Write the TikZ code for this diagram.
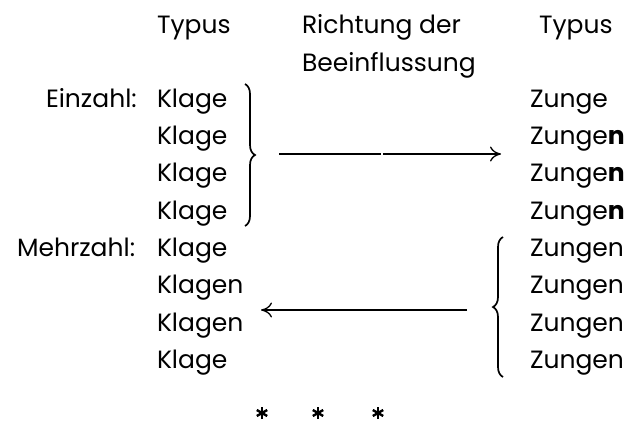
\documentclass[tikz,border=0pt]{standalone}
\usepackage{fontspec}
\setmainfont{Poppins}
\usetikzlibrary{arrows.meta,decorations.pathreplacing}
\begin{document}
\begin{tikzpicture}[x=1pt,y=-1pt,
  word/.style={inner sep=0pt,outer sep=0pt,font=\fontsize{25}{25}\selectfont},
  wordW/.style={word,anchor=base west},
  brace/.style={decorate,decoration={brace,amplitude=10pt},line width=1.7pt},
  flow/.style={line width=1.3pt,-{Computer Modern Rightarrow[length=11pt,width=15pt,line width=1.3pt]}},
  plain/.style={line width=1.3pt},
  star/.style={line width=2.4pt}]
\useasboundingbox (0,0) rectangle (639,421);

% column headings
\node[wordW] (h1) at (157,33) {Typus};
\node[wordW] (h2) at (302,33) {Richtung der};
\node[wordW] (h3) at (302,71) {Beeinflussung};
\node[wordW] (h4) at (539,33) {Typus};

% row labels
\node[wordW] (einz) at (46,107) {Einzahl:};
\node[wordW] (mehr) at (17,256) {Mehrzahl:};

% left column
\node[wordW] (k1) at (157,107) {Klage};
\node[wordW] (k2) at (157,144) {Klage};
\node[wordW] (k3) at (157,181) {Klage};
\node[wordW] (k4) at (157,219) {Klage};
\node[wordW] (k5) at (157,256) {Klage};
\node[wordW] (k6) at (157,293) {Klagen};
\node[wordW] (k7) at (157,331) {Klagen};
\node[wordW] (k8) at (157,368) {Klage};

% right column
\node[wordW] (z1) at (530,107) {Zunge};
\node[wordW] (z2) at (530,144) {Zunge\textbf{n}};
\node[wordW] (z3) at (530,181) {Zunge\textbf{n}};
\node[wordW] (z4) at (530,219) {Zunge\textbf{n}};
\node[wordW] (z5) at (530,256) {Zungen};
\node[wordW] (z6) at (530,293) {Zungen};
\node[wordW] (z7) at (530,331) {Zungen};
\node[wordW] (z8) at (530,368) {Zungen};

% braces
\coordinate (lbT) at (245,84);
\coordinate (lbB) at (245,226);
\coordinate (rbB) at (503,377);
\coordinate (rbT) at (503,237);
\draw[brace] (lbT) -- (lbB);
\draw[brace] (rbB) -- (rbT);

% arrows
\coordinate (ua1) at (279,154);
\coordinate (ua2) at (381,154);
\coordinate (ua3) at (383,154);
\coordinate (ua4) at (501,154);
\draw[plain] (ua1) -- (ua2);
\draw[flow] (ua3) -- (ua4);
\coordinate (la1) at (467,310);
\coordinate (la2) at (261,310);
\draw[flow] (la1) -- (la2);

% asterisks
\foreach \sx/\nm in {262/s1,318/s2,378/s3}{
  \coordinate (\nm) at (\sx,413);
  \foreach \a in {90,150,210}
    \draw[star] (\nm) ++(\a:6) -- ++(\a+180:12);
}
\end{tikzpicture}
\end{document}
